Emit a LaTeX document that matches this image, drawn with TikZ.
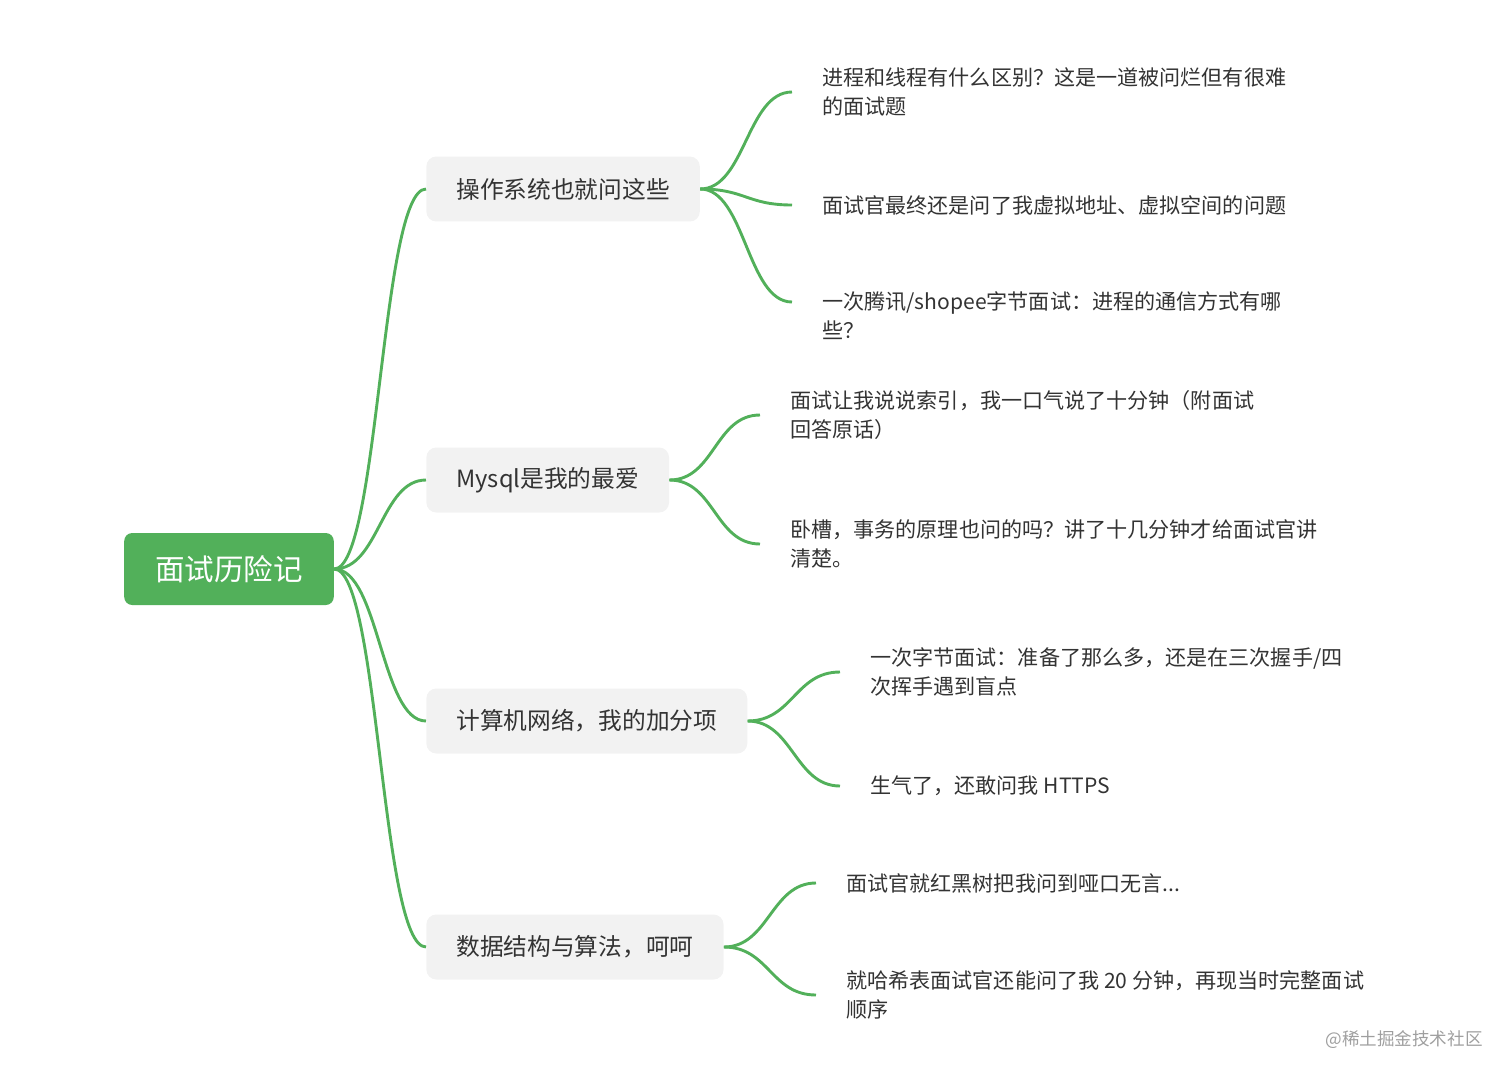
\documentclass[tikz,border=0pt]{standalone}
\usepackage{fontspec}
\setmainfont{Noto Sans CJK SC}
\usepackage{tikz}
\usetikzlibrary{positioning, calc}
\definecolor{mmgreen}{HTML}{52B05A}
\definecolor{mmgray}{HTML}{F2F2F2}
\definecolor{mmtext}{HTML}{333333}
\tikzset{every node/.append style={align=center}}

\begin{document}
\begin{tikzpicture}[x=0.02cm, y=-0.02cm,
    root/.style={rectangle, rounded corners=0.16cm, fill=mmgreen, text=white, font=\fontsize{16.8pt}{20pt}\selectfont, inner xsep=0.62cm, minimum height=1.44cm},
    topic/.style={rectangle, rounded corners=0.2cm, fill=mmgray, text=mmtext, font=\fontsize{13.5pt}{16pt}\selectfont, inner xsep=0.6cm, minimum height=1.3cm, anchor=west},
    leaf/.style={anchor=west, align=left, text=mmtext, font=\fontsize{12pt}{16.5pt}\selectfont, inner xsep=0.6cm, inner ysep=0pt},
    link/.style={draw=mmgreen, line width=1.65pt}]
\useasboundingbox (0,0) rectangle (1512,1079);
\node[root] (root) at (229,569) {面试历险记};
% topics
\node[topic] (os) at (426,189) {操作系统也就问这些};
\node[topic] (db) at (426,480) {Mysql是我的最爱};
\node[topic] (net) at (426,721) {计算机网络，我的加分项};
\node[topic] (algo) at (426,947) {数据结构与算法，呵呵};
\foreach \b in {os,db,net,algo}
  \draw[link] (root.east) .. controls +(45,0) and +(-45,0) .. (\b.west);
% leaves
\node[leaf] (os1) at (792,92) {进程和线程有什么区别？这是一道被问烂但有很难\\的面试题};
\node[leaf] (os2) at (792,205) {面试官最终还是问了我虚拟地址、虚拟空间的问题};
\node[leaf] (os3) at (792,316) {一次腾讯/shopee字节面试：进程的通信方式有哪\\些？};
\coordinate (os3tip) at (792,302);
\node[leaf] (db1) at (760,415) {面试让我说说索引，我一口气说了十分钟（附面试\\回答原话）};
\node[leaf] (db2) at (760,544) {卧槽，事务的原理也问的吗？讲了十几分钟才给面试官讲\\清楚。};
\node[leaf] (net1) at (840,672) {一次字节面试：准备了那么多，还是在三次握手/四\\次挥手遇到盲点};
\node[leaf] (net2) at (840,786) {生气了，还敢问我 HTTPS};
\node[leaf] (algo1) at (816,883) {面试官就红黑树把我问到哑口无言...};
\node[leaf] (algo2) at (816,995) {就哈希表面试官还能问了我 20 分钟，再现当时完整面试\\顺序};
\foreach \b/\l in {os/os1.west, os/os2.west, os/os3tip, db/db1.west, db/db2.west,
    net/net1.west, net/net2.west, algo/algo1.west, algo/algo2.west}
  \draw[link] (\b.east) .. controls +(45,0) and +(-45,0) .. (\l);
\node[text=gray!75, font=\fontsize{10pt}{12pt}\selectfont] (mark) at (1404,1040) {@稀土掘金技术社区};
\end{tikzpicture}
\end{document}
